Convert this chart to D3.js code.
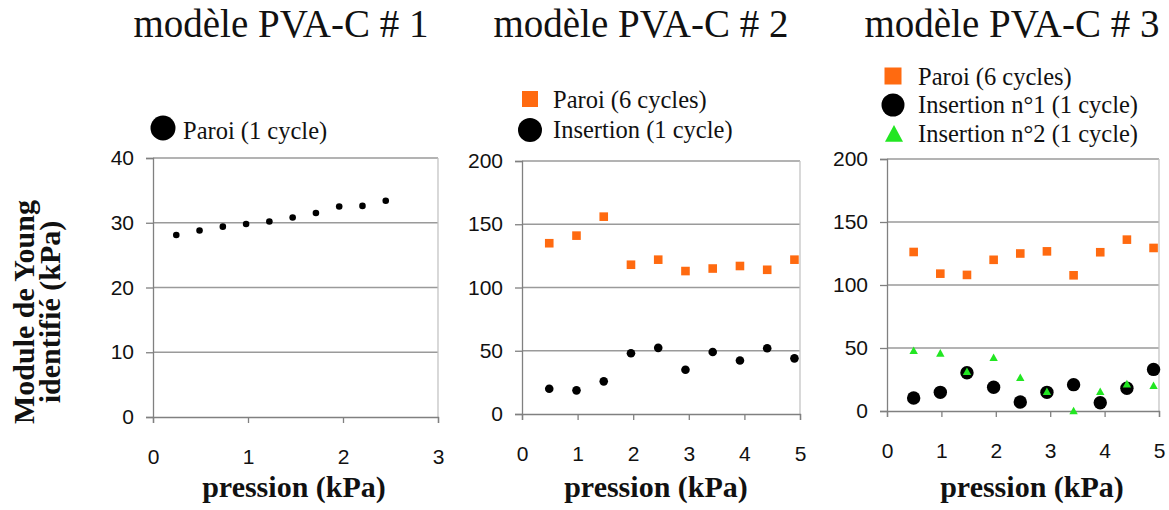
<!DOCTYPE html>
<html><head><meta charset="utf-8">
<script src="https://cdn.jsdelivr.net/npm/d3@7"></script>
<style>body{margin:0;background:#fff}svg{display:block}</style>
</head><body>
<svg id="c" width="1169" height="510"></svg>
<script>
// ---- data ----
const titles = ["modèle PVA-C # 1", "modèle PVA-C # 2", "modèle PVA-C # 3"];
const xLabel = "pression (kPa)";
const yLabel1 = "Module de Young";
const yLabel2 = "identifié (kPa)";

const p1Pressure = [0.245, 0.49, 0.735, 0.98, 1.225, 1.47, 1.715, 1.96, 2.205, 2.45];
const p1Paroi1 = [28.1, 28.8, 29.4, 29.8, 30.2, 30.8, 31.5, 32.5, 32.6, 33.4];

const p2Pressure = [0.49, 0.98, 1.47, 1.96, 2.45, 2.94, 3.43, 3.92, 4.41, 4.9];
const p2Paroi6 = [135, 141, 156, 118, 122, 113, 115, 117, 114, 122];
const p2Insertion = [20, 18.7, 25.8, 48, 52.3, 35, 49, 42.3, 52, 44];

const p3Pressure = [0.49, 0.98, 1.47, 1.96, 2.45, 2.94, 3.43, 3.92, 4.41, 4.9];
const p3Paroi6 = [126.2, 109, 108, 120, 125, 126.7, 107.7, 126, 136, 129.4];
const p3Insertion1 = [10.3, 14.8, 30.4, 18.8, 7.1, 14.8, 20.9, 6.6, 18, 33];
const p3Insertion2 = [47.9, 45.8, 31.2, 42.3, 26.5, 15.3, 0, 15.3, 21.4, 20.1];

const p1XTicks = [0, 1, 2, 3];
const p1YTicks = [0, 10, 20, 30, 40];
const p23XTicks = [0, 1, 2, 3, 4, 5];
const p23YTicks = [0, 50, 100, 150, 200];

const legend1 = ["Paroi (1 cycle)"];
const legend2 = ["Paroi (6 cycles)", "Insertion (1 cycle)"];
const legend3 = ["Paroi (6 cycles)", "Insertion n°1 (1 cycle)", "Insertion n°2 (1 cycle)"];

// ---- drawing ----
const ORANGE = "#ff6a10", GREEN = "#22e622", BLACK = "#000";
const serif = "'Liberation Serif', 'Times New Roman', serif";
const sans = "'Liberation Sans', Arial, sans-serif";
const svg = d3.select("#c");

function panel(cfg) {
  const x = d3.scaleLinear().domain(cfg.xDom).range([cfg.x0, cfg.x1]);
  const y = d3.scaleLinear().domain(cfg.yDom).range([cfg.y0, cfg.y1]);
  const g = svg.append("g");
  // gridlines
  g.selectAll(".grid").data(cfg.yTicks.filter(d => d > 0)).join("line")
    .attr("x1", cfg.x0).attr("x2", cfg.x1)
    .attr("y1", d => y(d)).attr("y2", d => y(d))
    .attr("stroke", "#9a9a9a").attr("stroke-width", 1.3);
  // right border
  g.append("line").attr("x1", cfg.x1).attr("x2", cfg.x1).attr("y1", cfg.y1).attr("y2", cfg.y0)
    .attr("stroke", "#c4c4c4").attr("stroke-width", 1.3);
  // y axis
  const ya = g.append("g").attr("transform", `translate(${cfg.x0},0)`)
    .call(d3.axisLeft(y).tickValues(cfg.yTicks).tickSize(7).tickPadding(12).tickFormat(d3.format("d")));
  ya.select(".domain").attr("stroke", "#808080").attr("stroke-width", 1.3);
  ya.selectAll(".tick line").attr("stroke", "#808080").attr("stroke-width", 1.3);
  ya.selectAll("text").attr("font-family", sans).attr("font-size", 21).attr("fill", "#111");
  // x axis
  const xa = g.append("g").attr("transform", `translate(0,${cfg.y0})`)
    .call(d3.axisBottom(x).tickValues(cfg.xTicks).tickSize(6).tickPadding(26).tickFormat(d3.format("d")));
  xa.select(".domain").attr("stroke", "#808080").attr("stroke-width", 1.3);
  xa.selectAll(".tick line").attr("stroke", "#808080").attr("stroke-width", 1.3);
  xa.selectAll("text").attr("font-family", sans).attr("font-size", 21).attr("fill", "#111");
  // title
  svg.append("text").attr("x", cfg.titleX).attr("y", 37).attr("text-anchor", "middle")
    .attr("font-family", serif).attr("font-size", 39).attr("fill", "#111").text(cfg.title);
  // x label
  svg.append("text").attr("x", cfg.xLabelX).attr("y", 497).attr("text-anchor", "middle")
    .attr("font-family", serif).attr("font-weight", "bold").attr("font-size", 30).attr("fill", "#111").text(xLabel);
  // series
  cfg.series.forEach(s => {
    const pts = s.ys.map((v, i) => [s.xs[i], v]);
    if (s.shape === "circle") {
      g.selectAll(null).data(pts).join("circle")
        .attr("cx", d => x(d[0])).attr("cy", d => y(d[1])).attr("r", s.size).attr("fill", s.color);
    } else if (s.shape === "square") {
      g.selectAll(null).data(pts).join("rect")
        .attr("x", d => x(d[0]) - s.size).attr("y", d => y(d[1]) - s.size)
        .attr("width", 2 * s.size).attr("height", 2 * s.size).attr("fill", s.color);
    } else {
      g.selectAll(null).data(pts).join("path")
        .attr("transform", d => `translate(${x(d[0])},${y(d[1])})`)
        .attr("d", `M0,${-s.size}L${s.size},${s.size * 0.8}L${-s.size},${s.size * 0.8}Z`)
        .attr("fill", s.color);
    }
  });
  // legend
  cfg.legend.forEach((L, i) => {
    const cy = L.cy;
    if (L.shape === "circle") {
      svg.append("circle").attr("cx", L.mx).attr("cy", cy).attr("r", L.size).attr("fill", L.color);
    } else if (L.shape === "square") {
      svg.append("rect").attr("x", L.mx - L.size).attr("y", cy - L.size)
        .attr("width", 2 * L.size).attr("height", 2 * L.size).attr("fill", L.color);
    } else {
      svg.append("path").attr("transform", `translate(${L.mx},${cy})`)
        .attr("d", `M0,${-L.size}L${L.size},${L.size * 0.85}L${-L.size},${L.size * 0.85}Z`)
        .attr("fill", L.color);
    }
    svg.append("text").attr("x", L.tx).attr("y", L.by).attr("font-family", serif)
      .attr("font-size", 24.5).attr("fill", "#111").text(L.label);
  });
}

panel({
  title: titles[0], titleX: 281, xLabelX: 294,
  xDom: [0, 3], yDom: [0, 40], x0: 153, x1: 438, y0: 417, y1: 158,
  xTicks: p1XTicks, yTicks: p1YTicks,
  series: [{ xs: p1Pressure, ys: p1Paroi1, shape: "circle", size: 3.3, color: BLACK }],
  legend: [{ label: legend1[0], shape: "circle", color: BLACK, size: 12.5, mx: 163, cy: 128, tx: 183, by: 139 }]
});

panel({
  title: titles[1], titleX: 641, xLabelX: 656,
  xDom: [0, 5], yDom: [0, 200], x0: 522, x1: 800, y0: 414, y1: 161,
  xTicks: p23XTicks, yTicks: p23YTicks,
  series: [
    { xs: p2Pressure, ys: p2Paroi6, shape: "square", size: 4.3, color: ORANGE },
    { xs: p2Pressure, ys: p2Insertion, shape: "circle", size: 4.3, color: BLACK }
  ],
  legend: [
    { label: legend2[0], shape: "square", color: ORANGE, size: 8, mx: 530, cy: 99, tx: 553, by: 108 },
    { label: legend2[1], shape: "circle", color: BLACK, size: 12, mx: 530, cy: 130, tx: 553, by: 138 }
  ]
});

panel({
  title: titles[2], titleX: 1012, xLabelX: 1032,
  xDom: [0, 5], yDom: [0, 200], x0: 887, x1: 1159, y0: 411, y1: 159,
  xTicks: p23XTicks, yTicks: p23YTicks,
  series: [
    { xs: p3Pressure, ys: p3Paroi6, shape: "square", size: 4.3, color: ORANGE },
    { xs: p3Pressure, ys: p3Insertion1, shape: "circle", size: 6.7, color: BLACK },
    { xs: p3Pressure, ys: p3Insertion2, shape: "triangle", size: 4.2, color: GREEN }
  ],
  legend: [
    { label: legend3[0], shape: "square", color: ORANGE, size: 8.5, mx: 893, cy: 76, tx: 918, by: 85 },
    { label: legend3[1], shape: "circle", color: BLACK, size: 11.5, mx: 893, cy: 105, tx: 918, by: 113 },
    { label: legend3[2], shape: "triangle", color: GREEN, size: 9, mx: 894, cy: 134, tx: 918, by: 142 }
  ]
});

// shared y label
svg.append("text").attr("transform", "translate(34,312) rotate(-90)").attr("text-anchor", "middle")
  .attr("font-family", serif).attr("font-weight", "bold").attr("font-size", 30).attr("fill", "#111").text(yLabel1);
svg.append("text").attr("transform", "translate(60,312) rotate(-90)").attr("text-anchor", "middle")
  .attr("font-family", serif).attr("font-weight", "bold").attr("font-size", 30).attr("fill", "#111").text(yLabel2);
</script>
</body></html>
